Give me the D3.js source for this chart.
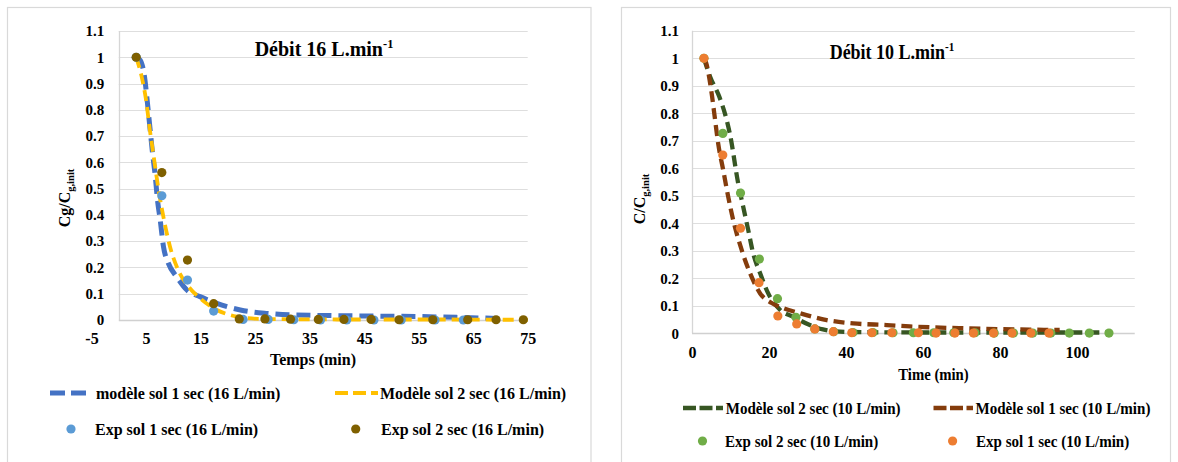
<!DOCTYPE html>
<html><head><meta charset="utf-8">
<script src="https://cdn.jsdelivr.net/npm/d3@7"></script>
<style>
body{margin:0;background:#fff}
svg{display:block}
text{font-family:"Liberation Serif","Times New Roman",serif;font-weight:bold;fill:#000}
</style>
</head><body><svg id="c" width="1178" height="462"></svg>
<script>
// ---------------- DATA ----------------
// Left chart: Débit 16 L/min
const leftXTicks = [-5, 5, 15, 25, 35, 45, 55, 65, 75];
const yTicks = [0, 0.1, 0.2, 0.3, 0.4, 0.5, 0.6, 0.7, 0.8, 0.9, 1, 1.1];

const lModel1T = [3.2, 3.9, 4.8, 5.2, 5.7, 6.2, 6.7, 7.1, 7.6, 8.2, 9.1, 10.6, 12.5, 14.9, 18, 22.3, 27.2, 32, 38, 46, 55.3, 62, 69.4];
const lModel1V = [1.0, 0.99, 0.914, 0.838, 0.736, 0.634, 0.546, 0.457, 0.381, 0.279, 0.216, 0.165, 0.114, 0.089, 0.063, 0.038, 0.025, 0.019, 0.017, 0.015, 0.013, 0.01, 0.006];

const lModel2T = [3.2, 4.2, 5, 5.7, 6.5, 7.4, 8.3, 9.4, 10.9, 12.8, 14.9, 18, 21.7, 25.9, 30, 40, 50, 60, 70, 75];
const lModel2V = [1.0, 0.926, 0.838, 0.724, 0.609, 0.482, 0.381, 0.279, 0.19, 0.127, 0.083, 0.038, 0.013, 0.004, 0.003, 0.002, 0.002, 0.002, 0.001, 0.001];

const lExp1T = [3.2, 7.9, 12.6, 17.4, 22.8, 27.4, 32.1, 37, 41.8, 46.8, 51.8, 58, 63.2];
const lExp1V = [1.0, 0.473, 0.152, 0.034, 0.002, 0.002, 0.001, 0, 0, 0, 0, 0, 0];

const lExp2T = [3.2, 7.9, 12.6, 17.4, 22.1, 26.8, 31.5, 36.6, 41.3, 46.3, 51.4, 57.6, 64, 69.2, 74.2];
const lExp2V = [1.0, 0.561, 0.228, 0.062, 0.004, 0.004, 0.003, 0.002, 0.002, 0.002, 0.001, 0.001, 0.001, 0.001, 0.001];

const leftLegend = ["modèle sol 1 sec (16 L/min)", "Modèle sol 2 sec (16 L/min)", "Exp sol 1 sec (16 L/min)", "Exp sol 2 sec (16 L/min)"];

// Right chart: Débit 10 L/min
const rightXTicks = [0, 20, 40, 60, 80, 100];

const rModel2T = [3.1, 4.7, 7.1, 9.0, 9.9, 12.0, 13.3, 14.6, 15.9, 17.7, 19.8, 22.9, 26.3, 30.6, 34, 38.4, 45, 60, 80, 100, 108.5];
const rModel2V = [1.0, 0.933, 0.86, 0.776, 0.721, 0.545, 0.46, 0.376, 0.29, 0.218, 0.145, 0.085, 0.06, 0.03, 0.014, 0.006, 0.004, 0.003, 0.003, 0.003, 0.003];

const rModel1T = [3.1, 3.4, 5.1, 6.0, 6.8, 8.1, 9.4, 10.7, 12.9, 15.1, 17.7, 20.7, 23, 28, 35, 41.9, 50.6, 56.6, 71.4, 85, 95.5];
const rModel1V = [1.0, 0.994, 0.873, 0.776, 0.69, 0.594, 0.497, 0.412, 0.303, 0.218, 0.145, 0.11, 0.095, 0.073, 0.048, 0.036, 0.030, 0.025, 0.018, 0.014, 0.012];

const rExp2T = [3.1, 8.0, 12.6, 17.5, 22.2, 27.0, 31.9, 36.8, 41.8, 47.0, 52.2, 57.5, 62.8, 68.0, 73.5, 78.5, 83.5, 88.5, 93.2, 98.0, 103.2, 108.3];
const rExp2V = [1.0, 0.727, 0.51, 0.27, 0.126, 0.058, 0.016, 0.006, 0.003, 0.003, 0.002, 0.002, 0.002, 0.002, 0.002, 0.001, 0.001, 0.001, 0.001, 0.001, 0.001, 0.001];

const rExp1T = [3.1, 8.0, 12.6, 17.4, 22.3, 27.2, 31.9, 36.7, 41.5, 46.7, 51.9, 58.8, 63.4, 68.3, 73.1, 78.3, 83.1, 88.0, 92.7];
const rExp1V = [1.0, 0.648, 0.382, 0.184, 0.063, 0.034, 0.016, 0.006, 0.002, 0.002, 0.002, 0.002, 0.001, 0.001, 0.001, 0.001, 0.001, 0.001, 0.001];

const rightLegend = ["Modèle sol 2 sec (10 L/min)", "Modèle sol 1 sec (10 L/min)", "Exp sol 2 sec (10 L/min)", "Exp sol 1 sec (10 L/min)"];

// ---------------- DRAW ----------------
const svg = d3.select("#c");
svg.append("rect").attr("x", 7.5).attr("y", 7.5).attr("width", 583.5).attr("height", 480)
  .attr("fill", "#fff").attr("stroke", "#d9d9d9").attr("stroke-width", 1.2);
svg.append("rect").attr("x", 621.5).attr("y", 7.5).attr("width", 549).attr("height", 480)
  .attr("fill", "#fff").attr("stroke", "#d9d9d9").attr("stroke-width", 1.2);

const pts = (T, V) => d3.zip(T, V).map(([t, v]) => ({t, v}));
const fmt = d => String(+d.toFixed(2));

// squeeze a text horizontally about its anchor
function squeeze(sel, f) {
  sel.each(function() {
    const t = d3.select(this);
    const x = +t.attr("x") || 0, y = +t.attr("y") || 0;
    t.attr("x", 0).attr("y", 0).attr("transform", `translate(${x},${y}) scale(${f},1)`);
  });
}

function chart(o) {
  const g = svg.append("g");
  const x = d3.scaleLinear().domain(o.xDomain).range(o.xRange);
  const y = d3.scaleLinear().domain([0, 1.1]).range(o.yRange);
  const x0 = x(0), xEnd = x(o.xDomain[1]);

  // gridlines
  g.append("g").selectAll("line").data(yTicks.filter(v => v > 0)).join("line")
    .attr("x1", x0).attr("x2", xEnd)
    .attr("y1", d => Math.round(y(d)) + 0.5).attr("y2", d => Math.round(y(d)) + 0.5)
    .attr("stroke", "#dedede").attr("stroke-width", 1.2);
  // axis lines
  g.append("line").attr("x1", Math.round(x0) + 0.5).attr("x2", Math.round(x0) + 0.5)
    .attr("y1", y(1.1)).attr("y2", y(0)).attr("stroke", "#d6d6d6").attr("stroke-width", 1.3);
  g.append("line").attr("x1", x0).attr("x2", xEnd)
    .attr("y1", Math.round(y(0)) + 0.5).attr("y2", Math.round(y(0)) + 0.5)
    .attr("stroke", "#d0d0d0").attr("stroke-width", 1.3);

  // axes (labels only)
  const ya = g.append("g").attr("transform", `translate(${x0},0)`)
    .call(d3.axisLeft(y).tickValues(yTicks).tickFormat(fmt).tickSize(0).tickPadding(o.yPad));
  ya.select(".domain").remove();
  ya.attr("font-size", o.tickFont).attr("font-family", null);
  const xa = g.append("g").attr("transform", `translate(0,${y(0)})`)
    .call(d3.axisBottom(x).tickValues(o.xTicks).tickFormat(fmt).tickSize(0).tickPadding(o.xPad));
  xa.select(".domain").remove();
  xa.attr("font-size", o.xTickFont).attr("font-family", null);

  // series lines
  const line = d3.line().x(d => x(d.t)).y(d => y(d.v)).curve(d3.curveMonotoneX);
  o.lines.forEach(s => {
    g.append("path").datum(pts(s.T, s.V)).attr("d", line)
      .attr("fill", "none").attr("stroke", s.color).attr("stroke-width", s.w)
      .attr("stroke-dasharray", s.dash).attr("stroke-linecap", "butt");
  });
  o.dots.forEach(s => {
    g.append("g").selectAll("circle").data(pts(s.T, s.V)).join("circle")
      .attr("cx", d => x(d.t)).attr("cy", d => y(d.v)).attr("r", 4.6).attr("fill", s.color);
  });

  // title
  const tt = g.append("text").attr("x", o.title.x).attr("y", o.title.y)
    .attr("text-anchor", "middle").attr("font-size", o.title.size);
  tt.append("tspan").text(o.title.text);
  tt.append("tspan").attr("dy", -o.title.size * 0.38).attr("font-size", o.title.size * 0.62).text("-1");
  if (o.squeezeTitle) squeeze(tt, o.squeezeTitle);

  // x axis title
  const xt = g.append("text").attr("x", o.xTitle.x).attr("y", o.xTitle.y)
    .attr("text-anchor", "middle").attr("font-size", 16).text(o.xTitle.text);
  if (o.squeezeText) squeeze(xt, o.squeezeText);

  // y axis title (rotated)
  const yt = g.append("text").attr("transform", `translate(${o.yTitle.x},${o.yTitle.y}) rotate(-90)`)
    .attr("text-anchor", "middle").attr("font-size", 16);
  yt.append("tspan").text(o.yTitle.main);
  yt.append("tspan").attr("dy", 4).attr("font-size", 10.5).text("g,init");

  // legend
  const lg = g.append("g");
  o.legend.forEach((it, i) => {
    const s = i < 2 ? o.lines[i] : o.dots[i - 2];
    if (i < 2) {
      lg.append("line").attr("x1", it.x1).attr("x2", it.x2).attr("y1", it.y).attr("y2", it.y)
        .attr("stroke", s.color).attr("stroke-width", s.w).attr("stroke-dasharray", it.dash || s.dash);
    } else {
      lg.append("circle").attr("cx", it.cx).attr("cy", it.y).attr("r", 4.6).attr("fill", s.color);
    }
    const t = lg.append("text").attr("x", it.tx).attr("y", it.y + 5.5).attr("font-size", 16).text(o.legendLabels[i]);
    if (o.squeezeLegend) squeeze(t, o.squeezeLegend);
  });
}

chart({
  xDomain: [-5, 75], xRange: [91.5, 527.7], yRange: [320, 31],
  xTicks: leftXTicks, yPad: 14.5, xPad: 12.5, tickFont: 15, xTickFont: 16,
  lines: [
    {T: lModel1T, V: lModel1V, color: "#4472c4", w: 5, dash: "14,7"},
    {T: lModel2T, V: lModel2V, color: "#ffc000", w: 3.8, dash: "11,6"}
  ],
  dots: [
    {T: lExp1T, V: lExp1V, color: "#5b9bd5"},
    {T: lExp2T, V: lExp2V, color: "#7f6000"}
  ],
  title: {text: "Débit 16 L.min", x: 324, y: 56, size: 20},
  xTitle: {text: "Temps (min)", x: 313, y: 365},
  yTitle: {main: "Cg/C", x: 70, y: 198},
  legendLabels: leftLegend,
  legend: [
    {x1: 50, x2: 87, y: 393, tx: 96, dash: "15,6"},
    {x1: 335, x2: 378, y: 393, tx: 380, dash: "13,5"},
    {cx: 71, y: 429, tx: 95},
    {cx: 355.7, y: 429, tx: 381}
  ]
});

chart({
  xDomain: [0, 115], xRange: [692, 1134.75], yRange: [333.3, 30.8],
  xTicks: rightXTicks, yPad: 13, xPad: 13.3, tickFont: 15, xTickFont: 16,
  lines: [
    {T: rModel2T, V: rModel2V, color: "#375623", w: 4.3, dash: "11,6"},
    {T: rModel1T, V: rModel1V, color: "#843c0c", w: 4.3, dash: "11,6"}
  ],
  dots: [
    {T: rExp2T, V: rExp2V, color: "#70ad47"},
    {T: rExp1T, V: rExp1V, color: "#ed7d31"}
  ],
  title: {text: "Débit 10 L.min", x: 892, y: 59, size: 20},
  squeezeTitle: 0.9, squeezeText: 0.92, squeezeLegend: 0.94,
  xTitle: {text: "Time (min)", x: 933.5, y: 380},
  yTitle: {main: "C/C", x: 645, y: 199},
  legendLabels: rightLegend,
  legend: [
    {x1: 683, x2: 723, y: 408, tx: 725.7, dash: "13,3.5"},
    {x1: 933.5, x2: 973, y: 408, tx: 975.5, dash: "13,3.5"},
    {cx: 702.5, y: 441, tx: 725},
    {cx: 952.6, y: 441, tx: 976}
  ]
});
</script></body></html>
